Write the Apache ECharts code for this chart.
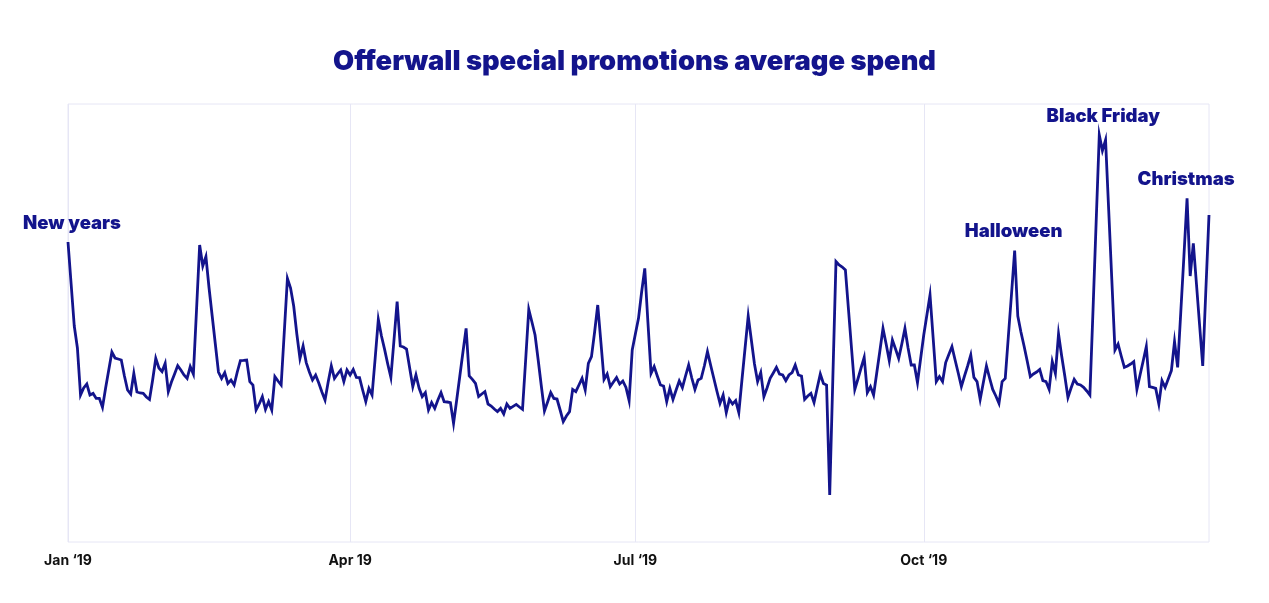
<!DOCTYPE html>
<html>
<head>
<meta charset="utf-8">
<script src="https://cdn.jsdelivr.net/npm/echarts@6/dist/echarts.min.js"></script>
<style>
  html, body { margin: 0; padding: 0; background: #ffffff; }
  #chart { width: 1269px; height: 603px; }
</style>
</head>
<body>
<div id="chart"></div>
<script>
// Average spend per day, 1 Jan 2019 .. 31 Dec 2019 (arbitrary units)
const spend = [
150,129,108,97,73.5,77,79,73.5,74.3,71.8,71.8,67.3,77,86,95,92,91.5,91,83,76,
74,84.3,75,74.5,74.3,72.5,71.3,81,91.8,87,85.2,89.3,75.2,80,84,88.2,86,83.5,81.8,87.7,
84,116,148.5,138,142.7,127,113,99,85,81.8,84.7,79.3,81,78.5,85,90.7,90.8,91,80.2,78.5,
66,69,72.7,66.3,70.2,66,82.7,80.5,78.5,105,131.8,127,118,104,91.8,98,89.7,85,81,83.5,
79.5,75,71,80,88,81.8,84,86,80.2,86,83.5,86.3,82.3,82.2,76,70.2,76.8,73.5,92,111.3,
103,96.3,89,82.3,101,120.2,98,97.5,96.5,87,77.7,83.5,77,72.7,74.7,66,69.7,66.8,71,74.7,
70.2,70,69.7,59.3,71,83,95,106.8,83,81.3,79.3,72.7,74,75.2,69,68,66.5,65.2,66.8,64,
69,66.8,67.8,68.8,67.5,66.3,91,116.3,110,103.5,91,78,65.5,70,74.7,71.8,71.5,66,60.2,63,
65.2,76.3,75.2,78.5,81.8,76,89.3,92.7,105,118.5,100,81.3,84,77.7,80,82.2,79,80.5,77.3,70.7,
96,104,111.8,125,136.8,110,84.3,87.7,83,78.5,78,70.2,76.8,71.3,76,80.5,77.2,83,88.5,82,
76.3,81,81.8,88,95.2,88.5,82,75.5,69.3,73.5,64.7,71.3,69,70.7,64.7,81,97,113,101,89,
80.2,84.7,72.7,77,81.8,84.5,87.3,84,83.5,80.7,83.5,84.7,88.5,83.5,83,71.3,73,74.3,69.7,77,
84,79.3,78.5,23.5,82,140.2,138.5,137.5,136,116,96,76.3,81.5,87,92.3,74.7,77.7,73.5,84.5,95.5,
106.8,99,90.7,101,96.5,91.8,99,106.8,97,88.5,88.5,79.7,91.6,103.5,113.5,123.5,102,80.2,82.7,80.2,
89.7,93.7,97.7,91,84.5,77.7,83,88,93.5,82.3,80.2,71.3,79.6,88,82,76.3,73,69.3,80.2,81.8,
103,124,145.7,113,105,98,90.5,82.7,84,85,86.3,80.7,80.2,76.3,90.2,84.3,104,93,83,72.3,
77,81.3,79,78.5,77.3,75.5,73.5,116,160,203.5,195.7,201,166,131,96,99,93,87.3,88,89,
90.2,76.3,83.5,90.5,97.7,77.7,77.3,76.8,69,80.7,77.3,81.5,85.7,100.2,87.3,115,143,171.8,133,149.3,
129,108.5,88,126,163.5
];

// Tick labels shown on the x axis (date -> label)
const tickDates  = ['2019-01-01', '2019-04-01', '2019-07-01', '2019-10-01'];
const tickLabels = ['Jan \u201819', 'Apr 19', 'Jul \u201819', 'Oct \u201819'];

// Annotated events (date -> text)
const eventDates = ['2019-01-01', '2019-10-30', '2019-11-26', '2019-12-24'];
const eventTexts = ['New years', 'Halloween', 'Black Friday', 'Christmas'];

// Category axis: one entry per day of 2019
const categories = [];
{
  const d = new Date(Date.UTC(2019, 0, 1));
  for (let i = 0; i < spend.length; i++) {
    categories.push(d.toISOString().slice(0, 10));
    d.setUTCDate(d.getUTCDate() + 1);
  }
}

const NAVY = '#13148c';
const FONT = 'Inter, "Noto Sans", sans-serif';

// horizontal nudges of the annotation labels (px)
const labelShift = [4, -1, 4, -1];

// Event points (taken from the series itself) for the annotation labels
const eventData = eventDates.map((d, k) => {
  const i = categories.indexOf(d);
  const s = labelShift[k];
  return {
    value: [d, spend[i]],
    name: eventTexts[k],
    label: {
      show: true,
      padding: s >= 0 ? [0, 0, 0, 2 * s] : [0, -2 * s, 0, 0]
    }
  };
});

const tickSet = new Set(tickDates);

const chart = echarts.init(document.getElementById('chart'), null, { renderer: 'canvas' });
chart.setOption({
  animation: false,
  backgroundColor: '#ffffff',
  title: {
    text: 'Offerwall special promotions average spend',
    left: 'center',
    top: 43,
    textStyle: {
      color: NAVY,
      fontFamily: FONT,
      fontWeight: 900,
      fontSize: 27.3
    }
  },
  grid: {
    left: 68,
    right: 60,
    top: 104,
    bottom: 61,
    show: true,
    borderColor: '#e6e6f5',
    borderWidth: 1,
    backgroundColor: 'transparent'
  },
  xAxis: {
    type: 'category',
    data: categories,
    boundaryGap: false,
    axisLine: { show: false },
    axisTick: { show: false },
    axisLabel: {
      interval: (idx, val) => tickSet.has(val),
      formatter: (val) => tickLabels[tickDates.indexOf(val)] || '',
      color: '#111111',
      fontFamily: FONT,
      fontWeight: 700,
      fontSize: 14,
      margin: 12
    },
    splitLine: {
      show: true,
      interval: (idx, val) => tickSet.has(val),
      lineStyle: { color: '#e6e6f5', width: 1 }
    }
  },
  yAxis: {
    type: 'value',
    min: 0,
    max: 219,
    show: false,
    splitLine: { show: false }
  },
  series: [{
    type: 'line',
    data: spend,
    symbol: 'none',
    showSymbol: false,
    lineStyle: { color: NAVY, width: 2.8, join: 'miter' },
    z: 3
  }, {
    type: 'scatter',
    data: eventData,
    symbol: 'circle',
    symbolSize: 1,
    itemStyle: { color: 'rgba(0,0,0,0)', opacity: 1 },
    silent: true,
    label: {
      show: true,
      position: 'top',
      distance: 9,
      formatter: (p) => p.name,
      color: NAVY,
      opacity: 1,
      fontFamily: FONT,
      fontWeight: 900,
      fontSize: 18.5
    },
    labelLayout: { hideOverlap: false },
    z: 4
  }]
});
</script>
</body>
</html>
